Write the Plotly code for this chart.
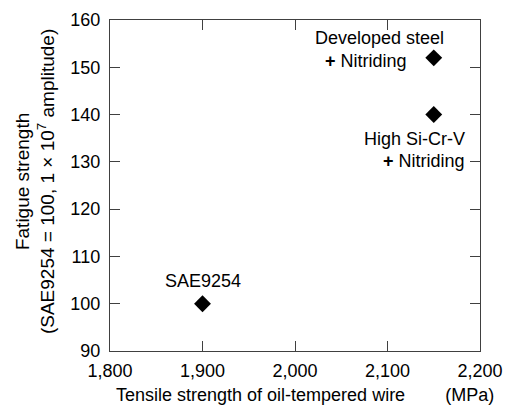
import plotly.graph_objects as go

names = ["SAE9254", "Developed steel + Nitriding", "High Si-Cr-V + Nitriding"]
tensile = [1900, 2150, 2150]
fatigue = [100, 152, 140]

x_ticks = [1800, 1900, 2000, 2100, 2200]
y_ticks = [90, 100, 110, 120, 130, 140, 150, 160]

FONT = "Liberation Sans, Arial, sans-serif"
TICK_SIZE = 18
TXT_SIZE = 18
NB = "\u00a0"
PAGE_OFF = 8  # default body margin of the html page

fig = go.Figure()
fig.add_trace(go.Scatter(
    x=tensile, y=fatigue, mode="markers",
    marker=dict(symbol="diamond", size=13, color="black"),
    showlegend=False, hoverinfo="skip",
))

fig.update_layout(
    width=513, height=408,
    margin=dict(l=110 - PAGE_OFF, r=33 + PAGE_OFF, t=20 - PAGE_OFF, b=57 + PAGE_OFF,
                autoexpand=False),
    paper_bgcolor="white", plot_bgcolor="white",
    font=dict(family=FONT, size=TXT_SIZE, color="black"),
)
axis_common = dict(
    showgrid=False, zeroline=False, showline=True, linecolor="#404040", linewidth=1.2,
    mirror="ticks", ticks="inside", ticklen=10, tickcolor="#404040", tickwidth=1,
    tickfont=dict(family=FONT, size=TICK_SIZE, color="black"), automargin=False,
)
fig.update_xaxes(range=[1800, 2200], tickvals=x_ticks,
                 ticktext=[f"{v:,}" for v in x_ticks], ticklabelstandoff=3, **axis_common)
fig.update_yaxes(range=[90, 160], tickvals=y_ticks, ticklabelstandoff=5, **axis_common)

# axis titles
fig.add_annotation(
    xref="paper", yref="paper", x=-0.204, y=0.512, xanchor="center", yanchor="middle",
    textangle=-90, showarrow=False,
    text="Fatigue strength<br>(SAE9254 = 100, 1 × 10<sup>7</sup> amplitude)",
    font=dict(family=FONT, size=19, color="black"),
)
fig.add_annotation(
    xref="paper", yref="paper", x=0.527, y=-0.133, xanchor="center", yanchor="middle",
    showarrow=False,
    text="Tensile strength of oil-tempered wire" + NB * 8 + "(MPa)",
    font=dict(family=FONT, size=TXT_SIZE, color="black"),
)

# point labels
fig.add_annotation(x=tensile[0], y=fatigue[0], text=names[0], showarrow=False,
                   xanchor="center", yanchor="middle", yshift=23,
                   font=dict(family=FONT, size=TXT_SIZE))
fig.add_annotation(x=tensile[1], y=fatigue[1], text="Developed steel", showarrow=False,
                   xanchor="right", yanchor="middle", xshift=12, yshift=20,
                   font=dict(family=FONT, size=TXT_SIZE))
fig.add_annotation(x=tensile[1], y=fatigue[1], text="<b>+</b> Nitriding", showarrow=False,
                   xanchor="right", yanchor="middle", xshift=-25, yshift=-3,
                   font=dict(family=FONT, size=TXT_SIZE))
fig.add_annotation(x=tensile[2], y=fatigue[2], text="High Si-Cr-V", showarrow=False,
                   xanchor="right", yanchor="middle", xshift=33, yshift=-24,
                   font=dict(family=FONT, size=TXT_SIZE))
fig.add_annotation(x=tensile[2], y=fatigue[2], text="<b>+</b> Nitriding", showarrow=False,
                   xanchor="right", yanchor="middle", xshift=33, yshift=-46,
                   font=dict(family=FONT, size=TXT_SIZE))

fig.write_html("out.html")
